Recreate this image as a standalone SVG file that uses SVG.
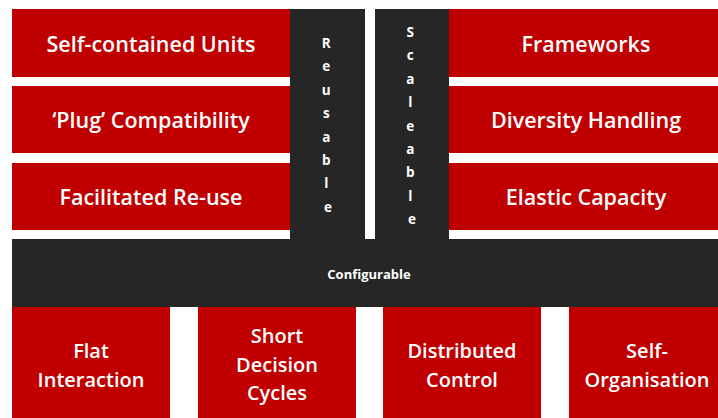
<svg xmlns="http://www.w3.org/2000/svg" width="718" height="418" viewBox="0 0 718 418">
  <style>
    .red { fill: #c00000; }
    .dark { fill: #262626; }
    .lbl { font-family: "Open Sans", "Noto Sans", sans-serif; font-weight: 600; fill: #ffffff; text-anchor: middle; }
    .top { font-size: 21.5px; }
    .bot { font-size: 20px; }
    .col { font-family: "Open Sans", "Noto Sans", sans-serif; font-weight: 700; font-size: 13.5px; fill: #ffffff; text-anchor: middle; }
    .band { font-family: "Open Sans", "Noto Sans", sans-serif; font-weight: 700; font-size: 13px; fill: #ffffff; text-anchor: middle; }
  </style>
  <rect width="718" height="418" fill="#ffffff"/>

  <!-- dark pillars and base band -->
  <g id="reusable">
    <rect class="dark" x="290" y="9" width="75" height="240"/>
    <text class="col" x="328">
      <tspan x="328" y="48">R</tspan>
      <tspan x="328" y="71.4">e</tspan>
      <tspan x="328" y="94.8">u</tspan>
      <tspan x="328" y="118.2">s</tspan>
      <tspan x="328" y="141.6">a</tspan>
      <tspan x="328" y="165">b</tspan>
      <tspan x="328" y="188.4">l</tspan>
      <tspan x="328" y="212">e</tspan>
    </text>
  </g>
  <g id="scaleable">
    <rect class="dark" x="375" y="9" width="74" height="240"/>
    <text class="col" x="412">
      <tspan x="412" y="37">S</tspan>
      <tspan x="412" y="60.4">c</tspan>
      <tspan x="412" y="83.8">a</tspan>
      <tspan x="412" y="107.2">l</tspan>
      <tspan x="412" y="130.6">e</tspan>
      <tspan x="412" y="154">a</tspan>
      <tspan x="412" y="177.4">b</tspan>
      <tspan x="412" y="200.8">l</tspan>
      <tspan x="412" y="224.2">e</tspan>
    </text>
  </g>
  <g id="configurable">
    <rect class="dark" x="12" y="239" width="706" height="68"/>
    <text class="band" x="369" y="279">Configurable</text>
  </g>

  <!-- left stack -->
  <g id="self-contained-units">
    <rect class="red" x="12" y="9" width="278" height="68"/>
    <text class="lbl top" x="151" y="52">Self-contained Units</text>
  </g>
  <g id="plug-compatibility">
    <rect class="red" x="12" y="86" width="278" height="67"/>
    <text class="lbl top" x="151" y="128">‘Plug’ Compatibility</text>
  </g>
  <g id="facilitated-re-use">
    <rect class="red" x="12" y="163" width="278" height="67"/>
    <text class="lbl top" x="151" y="205">Facilitated Re-use</text>
  </g>

  <!-- right stack -->
  <g id="frameworks">
    <rect class="red" x="449" y="9" width="269" height="68"/>
    <text class="lbl top" x="586" y="52">Frameworks</text>
  </g>
  <g id="diversity-handling">
    <rect class="red" x="449" y="86" width="269" height="67"/>
    <text class="lbl top" x="586" y="128">Diversity Handling</text>
  </g>
  <g id="elastic-capacity">
    <rect class="red" x="449" y="163" width="269" height="67"/>
    <text class="lbl top" x="586" y="205">Elastic Capacity</text>
  </g>

  <!-- bottom row -->
  <g id="flat-interaction">
    <rect class="red" x="12" y="307" width="158" height="111"/>
    <text class="lbl bot"><tspan x="91" y="358">Flat</tspan><tspan x="91" y="387">Interaction</tspan></text>
  </g>
  <g id="short-decision-cycles">
    <rect class="red" x="198" y="307" width="158" height="111"/>
    <text class="lbl bot"><tspan x="277" y="343">Short</tspan><tspan x="277" y="372">Decision</tspan><tspan x="277" y="400">Cycles</tspan></text>
  </g>
  <g id="distributed-control">
    <rect class="red" x="383" y="307" width="158" height="111"/>
    <text class="lbl bot"><tspan x="462" y="358">Distributed</tspan><tspan x="462" y="387">Control</tspan></text>
  </g>
  <g id="self-organisation">
    <rect class="red" x="569" y="307" width="149" height="111"/>
    <text class="lbl bot"><tspan x="647" y="358">Self-</tspan><tspan x="647" y="387">Organisation</tspan></text>
  </g>

  <!-- no connectors in this layout -->
  <g id="connectors"/>
</svg>
